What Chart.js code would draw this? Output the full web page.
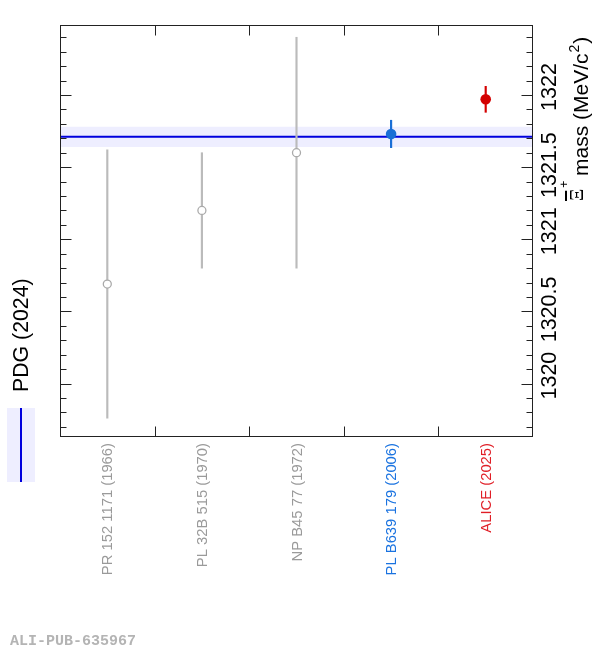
<!DOCTYPE html>
<html>
<head>
<meta charset="utf-8">
<script src="https://cdn.jsdelivr.net/npm/chart.js@4.4.1/dist/chart.umd.min.js"></script>
<style>
  html, body { margin: 0; padding: 0; background: #fff; }
  #wrap { width: 592px; height: 650px; }
</style>
</head>
<body>
<div id="wrap"><canvas id="massChart" width="592" height="650"></canvas></div>
<script>
// measurements of the anti-Xi+ mass (MeV/c^2)
const refs = ['PR 152 1171 (1966)', 'PL 32B 515 (1970)', 'NP B45 77 (1972)', 'PL B639 179 (2006)', 'ALICE (2025)'];
const massValues = [1320.69, 1321.20, 1321.60, 1321.73, 1321.97];
const massErrors = [0.93, 0.40, 0.80, 0.095, 0.09];
const openMarker = [true, true, true, false, false];
const pdgMass = 1321.71;
const pdgError = 0.07;
const yTicks = [1320, 1320.5, 1321, 1321.5, 1322];

const pointColors = ['#aaaaaa', '#aaaaaa', '#aaaaaa', '#1a6fd6', '#d40000'];
const barColors = ['#bbbbbb', '#bbbbbb', '#bbbbbb', '#1a6fd6', '#d40000'];
const labelColors = ['#9a9a9a', '#9a9a9a', '#9a9a9a', '#1a73e0', '#e01e26'];
const SANS = "'Liberation Sans', Arial, sans-serif";

function rotText(ctx, text, x, y, font, color, align) {
    ctx.save();
    ctx.translate(x, y);
    ctx.rotate(-Math.PI / 2);
    ctx.font = font;
    ctx.fillStyle = color;
    ctx.textAlign = align || 'left';
    ctx.textBaseline = 'alphabetic';
    ctx.fillText(text, 0, 0);
    ctx.restore();
}

const massPlot = {
    id: 'massPlot',
    beforeDatasetsDraw(chart) {
        const { ctx, chartArea: a, scales: { y } } = chart;
        const hi = y.getPixelForValue(pdgMass + pdgError);
        const lo = y.getPixelForValue(pdgMass - pdgError);
        ctx.save();
        ctx.fillStyle = '#eeeeff';
        ctx.fillRect(a.left, hi, a.right - a.left, lo - hi);
        ctx.strokeStyle = '#0000dd';
        ctx.lineWidth = 2;
        const py = y.getPixelForValue(pdgMass);
        ctx.beginPath();
        ctx.moveTo(a.left, py);
        ctx.lineTo(a.right, py);
        ctx.stroke();
        ctx.restore();
    },
    afterDraw(chart) {
        const { ctx, chartArea: a, scales: { x, y } } = chart;
        const L = Math.round(a.left) + 0.5, R = Math.round(a.right) - 0.5;
        const T = Math.round(a.top) + 0.5, B = Math.round(a.bottom) - 0.5;
        ctx.save();
        ctx.strokeStyle = '#222';
        ctx.lineWidth = 1;
        ctx.strokeRect(L, T, R - L, B - T);

        // y ticks, inward on both sides
        ctx.beginPath();
        const start = Math.ceil(y.min * 10);
        for (let k = start; k / 10 <= y.max; k++) {
            const p = Math.round(y.getPixelForValue(k / 10)) + 0.5;
            const len = (k % 5 === 0) ? 11 : 6;
            ctx.moveTo(L, p); ctx.lineTo(L + len, p);
            ctx.moveTo(R, p); ctx.lineTo(R - len, p);
        }
        // x ticks at category boundaries
        for (let i = 0; i < refs.length - 1; i++) {
            const p = Math.round((x.getPixelForValue(i) + x.getPixelForValue(i + 1)) / 2) + 0.5;
            ctx.moveTo(p, T); ctx.lineTo(p, T + 10);
            ctx.moveTo(p, B); ctx.lineTo(p, B - 10);
        }
        ctx.stroke();
        ctx.restore();

        // y tick labels (rotated)
        yTicks.forEach(v => {
            const s = String(v);
            const nudge = s.indexOf('.') >= 0 ? -2 : -8;
            rotText(ctx, s, 556, y.getPixelForValue(v) + nudge, '21.5px ' + SANS, '#000', 'center');
        });

        // axis title: anti-Xi+ mass (MeV/c2)
        ctx.save();
        ctx.translate(588, 201);
        ctx.rotate(-Math.PI / 2);
        ctx.fillStyle = '#000';
        ctx.strokeStyle = '#000';
        ctx.textBaseline = 'alphabetic';
        ctx.font = "19px 'Liberation Serif', serif";
        ctx.fillText('\u039E', 0, -5);
        const xiW = ctx.measureText('\u039E').width;
        ctx.lineWidth = 2;
        ctx.beginPath();
        ctx.moveTo(0, -22); ctx.lineTo(xiW - 2, -22);
        ctx.stroke();
        ctx.font = '12px ' + SANS;
        ctx.fillText('+', xiW + 1, -20);
        ctx.font = '21px ' + SANS;
        let cx = 25;
        const main = 'mass (MeV/c';
        ctx.fillText(main, cx, 0);
        cx += ctx.measureText(main).width;
        ctx.font = '14px ' + SANS;
        ctx.fillText('2', cx + 1, -9);
        cx += ctx.measureText('2').width + 2;
        ctx.font = '21px ' + SANS;
        ctx.fillText(')', cx, 0);
        ctx.restore();

        // category labels
        refs.forEach((r, i) => {
            rotText(ctx, r, x.getPixelForValue(i) + 5, 443, '14.8px ' + SANS, labelColors[i], 'right');
        });

        // legend
        rotText(ctx, 'PDG (2024)', 28, 392, '21.3px ' + SANS, '#000', 'left');
        ctx.save();
        ctx.fillStyle = '#eeeeff';
        ctx.fillRect(7, 408, 28, 74);
        ctx.strokeStyle = '#0000dd';
        ctx.lineWidth = 2;
        ctx.beginPath();
        ctx.moveTo(21, 408); ctx.lineTo(21, 482);
        ctx.stroke();

        ctx.font = "bold 15px 'Liberation Mono', monospace";
        ctx.fillStyle = '#b4b4b4';
        ctx.textBaseline = 'alphabetic';
        ctx.fillText('ALI-PUB-635967', 10, 645);
        ctx.restore();
    }
};

const chart = new Chart(document.getElementById('massChart'), {
    type: 'bar',
    data: {
        labels: refs,
        datasets: [
            {
                type: 'bar',
                data: massValues.map((m, i) => [m - massErrors[i], m + massErrors[i]]),
                backgroundColor: barColors,
                barThickness: 1.5,
                grouped: false,
                order: 2
            },
            {
                type: 'line',
                data: massValues,
                showLine: false,
                pointRadius: openMarker.map(o => o ? 4 : 5.3),
                pointBackgroundColor: openMarker.map((o, i) => o ? '#ffffff' : pointColors[i]),
                pointBorderColor: pointColors,
                pointBorderWidth: openMarker.map(o => o ? 1.3 : 0),
                order: 1
            }
        ]
    },
    options: {
        responsive: false,
        animation: false,
        layout: { padding: { left: 60, top: 25, right: 0, bottom: 0 } },
        plugins: { legend: { display: false }, tooltip: { enabled: false } },
        scales: {
            x: {
                offset: true,
                grid: { display: false },
                border: { display: false },
                ticks: { display: false },
                afterFit: s => { s.height = 213; }
            },
            y: {
                position: 'right',
                min: 1319.63,
                max: 1322.485,
                grid: { display: false },
                border: { display: false },
                ticks: { display: false },
                afterFit: s => { s.width = 59; }
            }
        }
    },
    plugins: [massPlot]
});
</script>
</body>
</html>
